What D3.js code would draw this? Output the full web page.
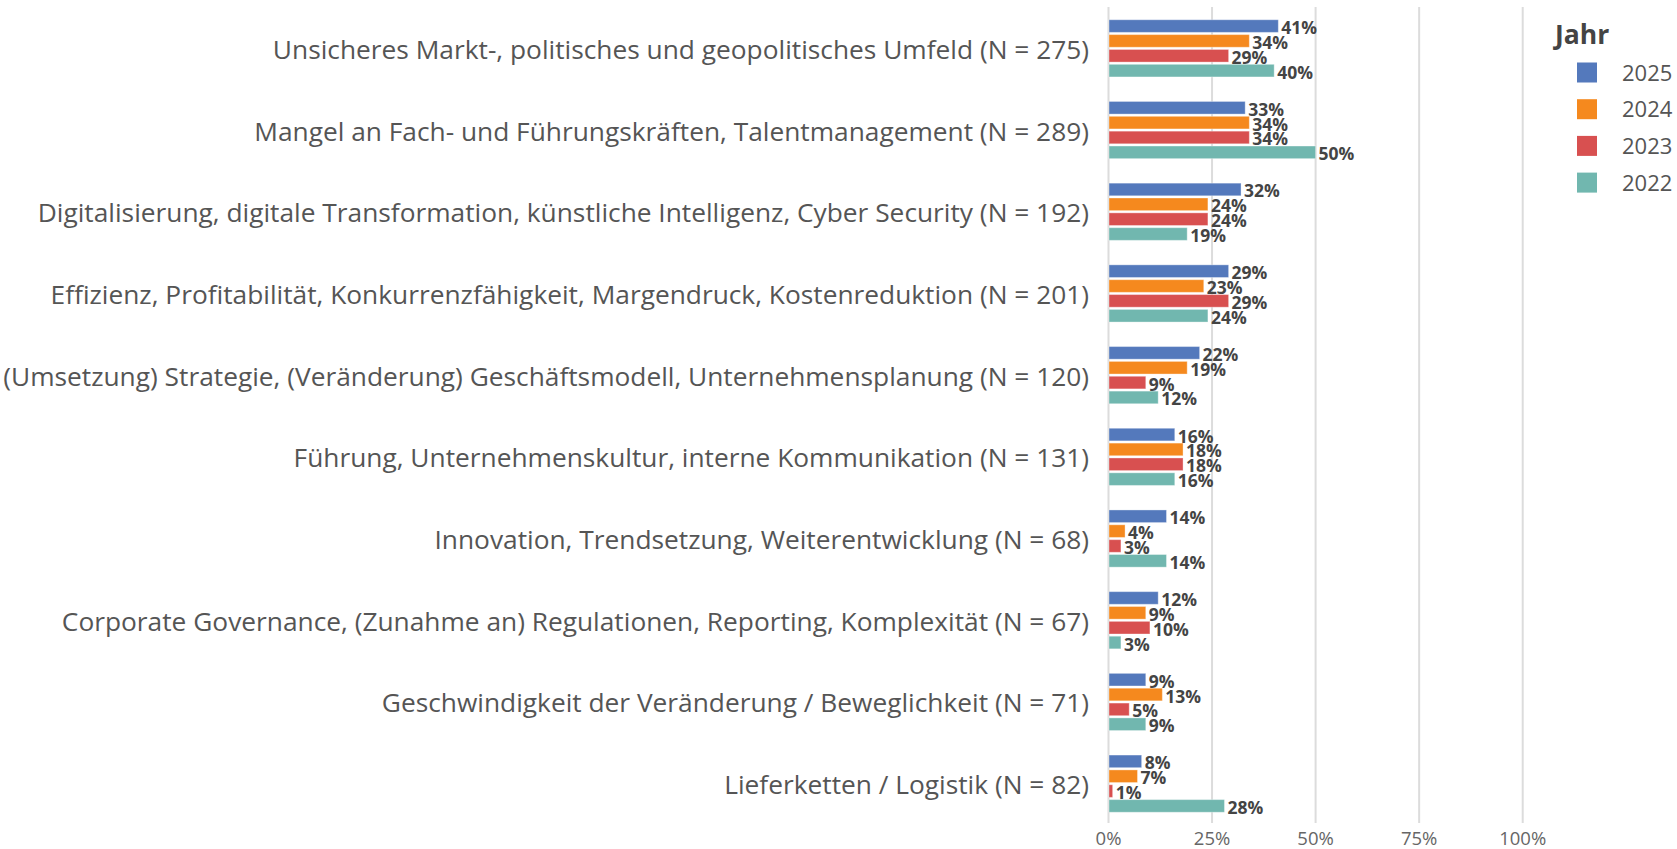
<!DOCTYPE html>
<html>
<head>
<meta charset="utf-8">
<script src="https://cdn.jsdelivr.net/npm/d3@7"></script>
<style>
  html, body { margin: 0; padding: 0; background: #fff; }
  svg { display: block; }
</style>
</head>
<body>
<svg id="chart" width="1677" height="849"></svg>
<script>
const categories = [
  "Unsicheres Markt-, politisches und geopolitisches Umfeld (N = 275)",
  "Mangel an Fach- und Führungskräften, Talentmanagement (N = 289)",
  "Digitalisierung, digitale Transformation, künstliche Intelligenz, Cyber Security (N = 192)",
  "Effizienz, Profitabilität, Konkurrenzfähigkeit, Margendruck, Kostenreduktion (N = 201)",
  "(Umsetzung) Strategie, (Veränderung) Geschäftsmodell, Unternehmensplanung (N = 120)",
  "Führung, Unternehmenskultur, interne Kommunikation (N = 131)",
  "Innovation, Trendsetzung, Weiterentwicklung (N = 68)",
  "Corporate Governance, (Zunahme an) Regulationen, Reporting, Komplexität (N = 67)",
  "Geschwindigkeit der Veränderung / Beweglichkeit (N = 71)",
  "Lieferketten / Logistik (N = 82)"
];
const years = ["2025", "2024", "2023", "2022"];
const values2025 = [41, 33, 32, 29, 22, 16, 14, 12, 9, 8];
const values2024 = [34, 34, 24, 23, 19, 18, 4, 9, 13, 7];
const values2023 = [29, 34, 24, 29, 9, 18, 3, 10, 5, 1];
const values2022 = [40, 50, 19, 24, 12, 16, 14, 3, 9, 28];
const tickValues = [0, 25, 50, 75, 100];
const legendTitle = "Jahr";

const seriesByYear = { "2025": values2025, "2024": values2024, "2023": values2023, "2022": values2022 };
const colors = { "2025": "#5479BC", "2024": "#F5891E", "2023": "#D85050", "2022": "#71B7AF" };

const svg = d3.select("#chart");
const font = "'Open Sans', 'Noto Sans', sans-serif";

const x = d3.scaleLinear().domain([0, 100]).range([1108.5, 1522.7]);
const y0 = d3.scaleBand().domain(categories).range([7.5, 824.5]).paddingInner(0.3).paddingOuter(0.15);
const y1 = d3.scaleBand().domain(years).range([0, y0.bandwidth()]).paddingInner(0.15);

// gridlines
svg.append("g").selectAll("line").data(tickValues).join("line")
  .attr("x1", d => x(d)).attr("x2", d => x(d))
  .attr("y1", 7).attr("y2", 823)
  .attr("stroke", "#dcdcdc").attr("stroke-width", 2);

// axis labels
svg.append("g").selectAll("text").data(tickValues).join("text")
  .attr("x", d => x(d)).attr("y", 845)
  .attr("text-anchor", "middle")
  .attr("font-family", font).attr("font-size", 18.5).attr("fill", "#666")
  .text(d => d + "%");

// category labels
svg.append("g").selectAll("text").data(categories).join("text")
  .attr("x", 1089).attr("y", d => y0(d) + y0.bandwidth() / 2 + 10.5)
  .attr("text-anchor", "end")
  .attr("font-family", font).attr("font-size", 26.3).attr("fill", "#555")
  .text(d => d);

// bars
const groups = svg.append("g").selectAll("g").data(categories).join("g")
  .attr("transform", d => `translate(0,${y0(d)})`);

groups.each(function(cat, i) {
  const g = d3.select(this);
  const rows = years.map(yr => ({ yr, v: seriesByYear[yr][i] }));
  g.selectAll("rect").data(rows).join("rect")
    .attr("x", x(0) + 0.5)
    .attr("y", d => y1(d.yr))
    .attr("width", d => Math.max(1.5, x(d.v) - x(0) - 0.5))
    .attr("height", y1.bandwidth())
    .attr("fill", d => colors[d.yr])
    .attr("stroke", "rgba(255,255,255,0.35)").attr("stroke-width", 1);
  g.selectAll("text").data(rows).join("text")
    .attr("x", d => x(d.v) + 3)
    .attr("y", d => y1(d.yr) + y1.bandwidth() / 2 + 8)
    .attr("font-family", font).attr("font-size", 17.5).attr("font-weight", "bold")
    .attr("fill", "#444")
    .text(d => d.v + "%");
});

// legend
svg.append("text").attr("x", 1555).attr("y", 44)
  .attr("font-family", font).attr("font-size", 26.5).attr("font-weight", "bold").attr("fill", "#444")
  .text(legendTitle);
const leg = svg.append("g").selectAll("g").data(years).join("g")
  .attr("transform", (d, i) => `translate(1577,${62.5 + i * 36.7})`);
leg.append("rect").attr("width", 20).attr("height", 20).attr("fill", d => colors[d]);
leg.append("text").attr("x", 45).attr("y", 18)
  .attr("font-family", font).attr("font-size", 22).attr("fill", "#555")
  .text(d => d);
</script>
</body>
</html>
